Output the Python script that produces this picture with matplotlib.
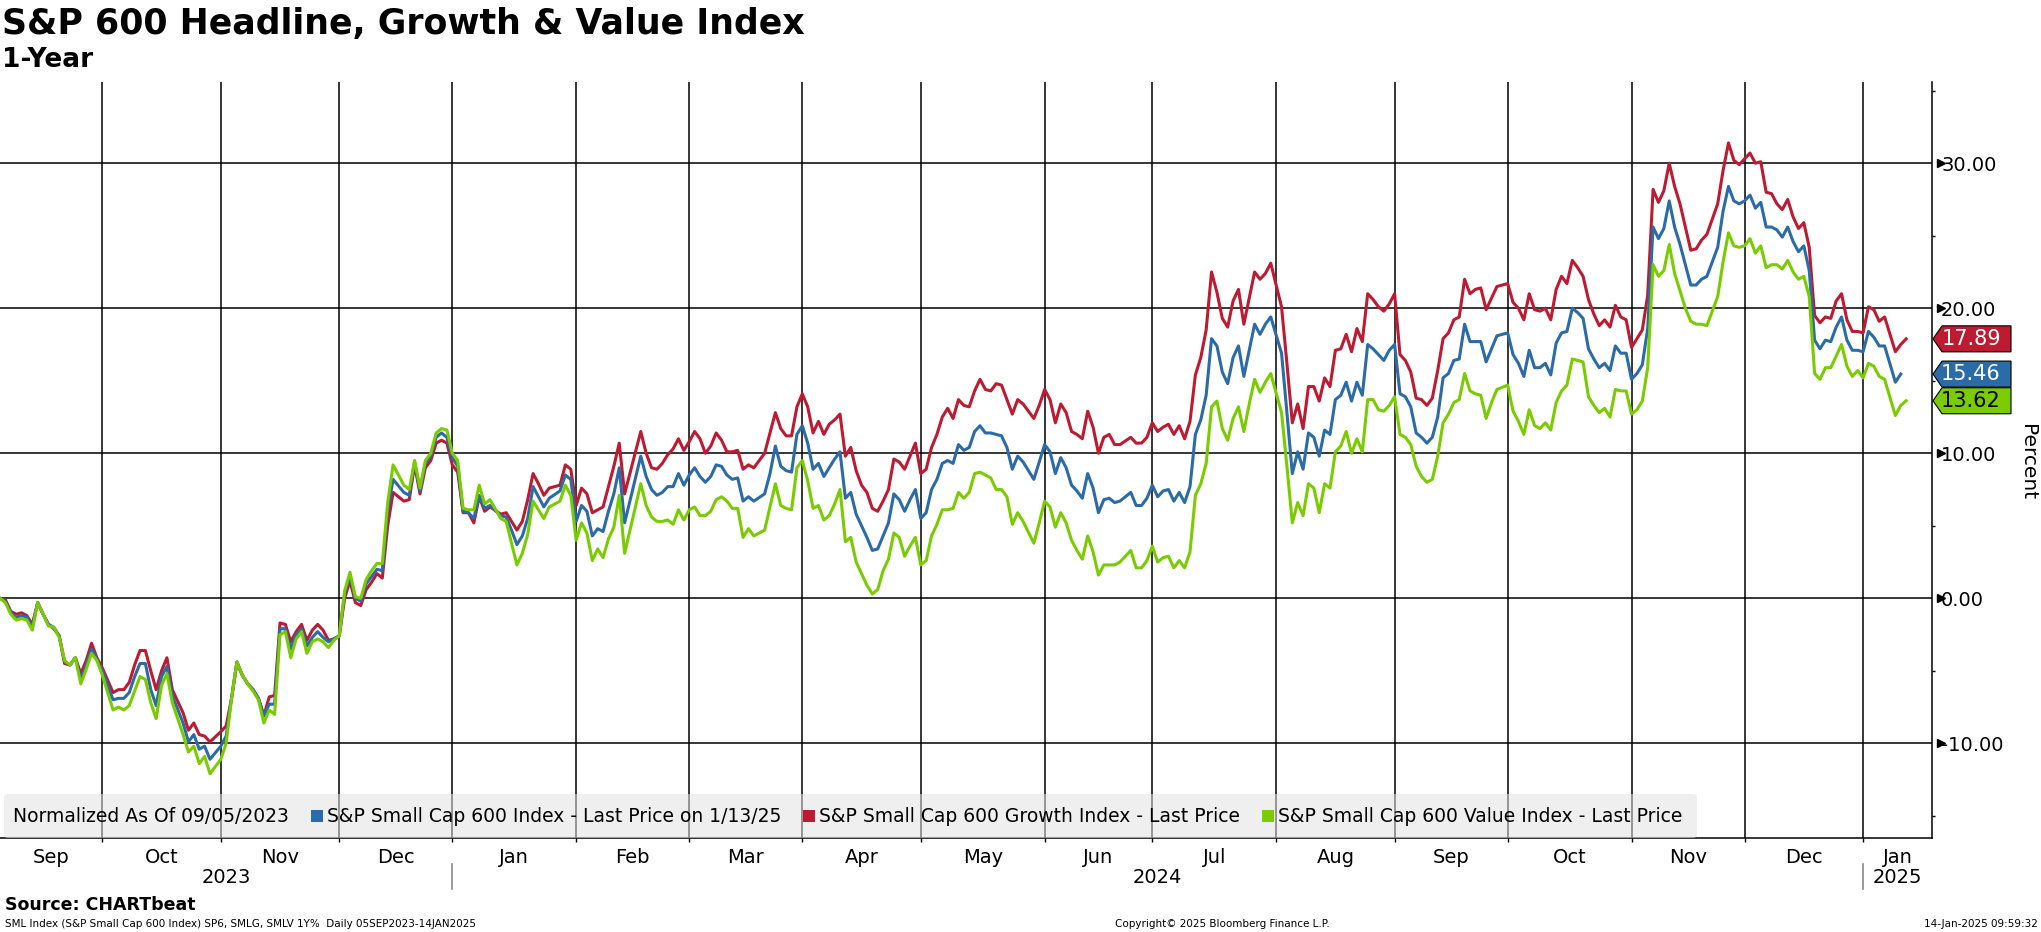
import numpy as np
import pandas as pd
import matplotlib
matplotlib.use("Agg")
import matplotlib.pyplot as plt
from matplotlib.patches import Polygon, FancyBboxPatch, Rectangle

# trading day number, counted in weekdays from 05 Sep 2023
day = [0, 1, 2, 3, 4, 5, 6, 7, 8, 9, 10, 11, 12, 13, 14, 15, 16, 17, 18, 19,
       21, 22, 23, 24, 25, 26, 27, 28, 29, 30, 31, 32, 34, 35, 36, 37, 38, 39, 41, 42,
       43, 44, 45, 46, 47, 48, 49, 50, 51, 52, 53, 54, 55, 56, 57, 58, 59, 60, 61, 62,
       63, 64, 65, 66, 67, 68, 69, 70, 71, 72, 73, 75, 76, 77, 78, 79, 80, 81, 82, 83,
       84, 85, 86, 87, 88, 89, 90, 91, 93, 94, 95, 96, 97, 98, 99, 100, 101, 102, 104, 105,
       106, 107, 108, 109, 110, 111, 112, 113, 114, 115, 116, 119, 120, 121, 122, 123, 124, 125, 126, 127,
       128, 129, 130, 131, 132, 133, 134, 135, 136, 137, 138, 139, 140, 142, 143, 144, 145, 146, 147, 148,
       149, 150, 151, 152, 153, 154, 155, 156, 157, 158, 159, 160, 161, 162, 163, 164, 165, 166, 167, 168,
       169, 170, 171, 172, 173, 174, 175, 176, 177, 178, 179, 180, 181, 182, 183, 184, 185, 186, 187, 188,
       189, 190, 192, 193, 194, 195, 196, 197, 198, 199, 200, 201, 202, 203, 204, 205, 206, 207, 208, 210,
       211, 212, 213, 214, 215, 216, 217, 218, 219, 220, 221, 222, 223, 224, 225, 226, 227, 228, 229, 230,
       231, 232, 233, 234, 235, 236, 238, 239, 240, 241, 242, 243, 244, 245, 246, 247, 248, 249, 250, 251,
       252, 253, 254, 255, 256, 257, 258, 259, 260, 261, 262, 263, 264, 265, 266, 267, 268, 269, 270, 271,
       272, 273, 274, 275, 276, 277, 278, 280, 281, 282, 283, 284, 285, 286, 287, 288, 289, 290, 291, 292,
       293, 294, 295, 296, 297, 298, 299, 300, 301, 302, 303, 304, 305, 306, 307, 308, 309, 310, 311, 312,
       313, 314, 315, 316, 317, 319, 320, 321, 322, 323, 324, 325, 326, 327, 328, 329, 330, 331, 332, 333,
       334, 335, 336, 337, 338, 339, 340, 341, 342, 343, 344, 345, 346, 347, 348, 349, 350, 352, 353, 354]

growth = [0.0, -0.1, -0.9, -1.1, -1.0, -1.2, -1.8, -0.3, -1.1, -1.8, -2.1, -2.6, -4.5, -4.6, -4.1, -5.2, -4.3, -3.1, -4.1, -4.8,
          -6.5, -6.3, -6.3, -5.8, -4.6, -3.6, -3.6, -5.0, -6.3, -5.0, -4.1, -6.3, -7.9, -9.1, -8.6, -9.4, -9.5, -9.9, -9.2, -8.8,
          -6.9, -4.4, -5.3, -5.9, -6.3, -6.9, -8.1, -6.8, -6.7, -1.7, -1.8, -3.0, -2.3, -1.8, -2.9, -2.2, -1.8, -2.2, -2.9, -2.8,
          -2.6, 0.0, 1.2, -0.3, -0.5, 0.6, 1.1, 1.7, 1.4, 5.0, 7.3, 6.7, 6.8, 9.2, 7.2, 9.0, 9.5, 10.7, 10.9, 10.7,
          9.2, 8.7, 5.9, 5.9, 5.2, 7.0, 6.0, 6.3, 5.8, 5.9, 5.3, 4.7, 5.3, 6.8, 8.6, 7.9, 7.1, 7.6, 7.8, 9.2,
          8.9, 6.4, 7.6, 7.2, 5.9, 6.1, 6.3, 7.7, 9.1, 10.7, 7.2, 11.5, 10.0, 9.0, 8.9, 9.3, 9.9, 10.3, 11.0, 10.2,
          10.8, 11.5, 11.0, 10.0, 10.5, 11.4, 10.9, 10.1, 10.1, 10.2, 8.9, 9.2, 9.0, 10.0, 11.4, 12.8, 11.7, 11.2, 11.2, 13.2,
          14.1, 13.2, 11.4, 12.2, 11.3, 12.0, 12.3, 12.7, 9.8, 10.4, 8.8, 7.8, 7.3, 6.2, 6.0, 6.7, 7.5, 9.6, 9.4, 8.9,
          9.8, 10.7, 8.6, 8.9, 10.4, 11.3, 12.5, 13.1, 12.4, 13.7, 13.3, 13.2, 14.3, 15.1, 14.4, 14.3, 14.8, 14.7, 13.7, 12.7,
          13.7, 13.4, 12.4, 13.3, 14.4, 13.7, 12.1, 13.4, 12.8, 11.5, 11.3, 11.0, 12.9, 11.8, 10.0, 11.1, 11.3, 10.6, 10.6, 11.1,
          10.7, 10.7, 11.1, 12.1, 11.5, 11.8, 12.0, 11.3, 11.9, 11.0, 12.2, 15.4, 16.6, 18.5, 22.5, 21.1, 19.3, 18.7, 20.5, 21.3,
          18.9, 20.7, 22.5, 22.0, 22.4, 23.1, 20.1, 16.2, 12.1, 13.4, 11.7, 14.6, 14.6, 13.6, 15.2, 14.6, 17.1, 17.2, 18.2, 17.0,
          18.6, 17.7, 21.0, 20.6, 20.1, 19.8, 20.3, 21.0, 16.8, 16.4, 15.6, 13.8, 13.7, 13.3, 13.8, 15.7, 17.9, 18.3, 19.2, 19.4,
          22.0, 21.0, 21.3, 21.4, 19.9, 20.7, 21.5, 21.7, 20.4, 20.0, 19.2, 21.0, 19.9, 19.8, 20.0, 19.2, 21.3, 22.2, 21.7, 23.3,
          22.8, 22.2, 20.6, 19.6, 18.8, 19.2, 18.7, 20.2, 19.4, 19.2, 17.3, 17.9, 18.5, 20.9, 28.2, 27.3, 28.1, 30.0, 28.4, 27.2,
          25.6, 24.0, 24.1, 24.7, 25.1, 27.2, 29.5, 31.4, 30.2, 29.9, 30.3, 30.7, 30.0, 30.1, 28.0, 27.9, 27.2, 26.8, 27.5, 26.3,
          25.5, 25.9, 24.2, 19.5, 19.0, 19.4, 19.3, 20.5, 21.0, 19.2, 18.4, 18.4, 18.3, 20.1, 19.9, 19.1, 19.4, 17.0, 17.5, 17.89]

sp600 = [0.0, -0.2, -1.0, -1.3, -1.2, -1.3, -2.0, -0.3, -1.1, -1.8, -2.0, -2.6, -4.4, -4.6, -4.1, -5.6, -4.6, -3.5, -4.2, -5.0,
         -7.0, -6.9, -6.9, -6.5, -5.4, -4.5, -4.5, -6.3, -7.4, -5.4, -4.7, -6.7, -8.6, -9.9, -9.4, -10.4, -10.2, -11.1, -10.2, -9.5,
         -6.9, -4.4, -5.3, -5.9, -6.3, -6.9, -8.1, -7.3, -7.3, -2.1, -2.1, -3.5, -2.5, -2.1, -3.3, -2.7, -2.3, -2.7, -3.0, -2.8,
         -2.6, 0.3, 1.5, 0.0, -0.2, 1.0, 1.5, 2.0, 1.9, 6.0, 8.2, 7.3, 7.1, 9.4, 7.4, 9.3, 9.8, 11.1, 11.4, 11.1,
         9.7, 9.1, 6.0, 5.9, 5.5, 7.1, 6.2, 6.4, 5.7, 5.6, 4.7, 3.7, 4.3, 5.5, 7.7, 7.0, 6.3, 6.9, 7.4, 8.5,
         8.2, 5.3, 6.4, 6.0, 4.3, 4.8, 4.6, 6.0, 7.2, 9.0, 5.2, 9.8, 8.4, 7.5, 7.1, 7.3, 7.7, 7.7, 8.6, 7.8,
         8.5, 9.0, 8.4, 8.0, 8.4, 9.2, 9.1, 8.5, 8.2, 8.3, 6.7, 7.0, 6.7, 7.2, 8.6, 10.5, 9.1, 8.8, 8.7, 11.3,
         11.9, 10.7, 8.9, 9.3, 8.4, 9.0, 9.6, 10.1, 6.9, 7.3, 5.8, 5.0, 4.2, 3.3, 3.4, 4.3, 5.2, 7.2, 6.8, 6.0,
         6.8, 7.5, 5.5, 5.9, 7.5, 8.2, 9.3, 9.5, 9.3, 10.6, 10.2, 10.4, 11.5, 11.9, 11.4, 11.4, 11.3, 11.2, 10.4, 8.9,
         9.8, 9.4, 8.2, 9.4, 10.6, 10.1, 8.6, 9.7, 9.0, 7.8, 7.4, 6.9, 8.6, 7.6, 5.9, 6.8, 6.9, 6.6, 6.7, 7.3,
         6.4, 6.4, 6.9, 7.8, 7.0, 7.4, 7.5, 6.7, 7.3, 6.6, 7.7, 11.3, 12.3, 14.0, 17.9, 17.4, 15.6, 14.8, 16.6, 17.4,
         15.3, 17.1, 18.9, 18.2, 18.9, 19.4, 16.9, 12.8, 8.6, 10.1, 8.9, 11.4, 11.1, 9.8, 11.6, 11.3, 13.7, 14.0, 14.9, 13.6,
         14.9, 14.0, 17.5, 17.2, 16.8, 16.4, 17.1, 17.5, 14.1, 13.9, 13.2, 11.4, 11.1, 10.7, 11.1, 12.5, 15.2, 15.5, 16.4, 16.5,
         18.9, 17.7, 17.7, 17.7, 16.3, 17.2, 18.1, 18.3, 16.8, 16.2, 15.3, 17.1, 15.9, 15.9, 16.2, 15.4, 17.6, 18.3, 18.4, 20.0,
         19.7, 19.3, 17.2, 16.5, 15.9, 16.2, 15.7, 17.4, 16.9, 16.9, 15.1, 15.5, 16.1, 18.6, 25.6, 24.8, 25.5, 27.4, 25.6, 24.4,
         23.0, 21.6, 21.6, 22.0, 22.2, 24.2, 26.7, 28.4, 27.4, 27.2, 27.4, 27.8, 26.9, 27.3, 25.6, 25.6, 25.4, 24.9, 25.6, 24.6,
         23.9, 24.3, 22.6, 17.8, 17.2, 17.8, 17.7, 18.7, 19.4, 17.8, 17.1, 17.1, 17.0, 18.4, 18.0, 17.4, 17.4, 14.9, 15.46, np.nan]

value = [0.0, -0.3, -1.1, -1.5, -1.4, -1.5, -2.2, -0.3, -1.1, -1.9, -2.0, -2.7, -4.3, -4.6, -4.1, -5.9, -4.9, -3.8, -4.3, -5.3,
         -7.7, -7.5, -7.7, -7.4, -6.4, -5.4, -5.6, -7.2, -8.3, -6.0, -5.2, -7.2, -9.4, -10.6, -10.2, -11.4, -10.9, -12.1, -11.1, -10.0,
         -6.9, -4.4, -5.3, -5.9, -6.4, -7.0, -8.6, -7.7, -8.0, -2.5, -2.3, -4.1, -2.8, -2.3, -3.8, -3.0, -2.8, -3.0, -3.4, -2.9,
         -2.6, 0.5, 1.8, 0.1, 0.0, 1.3, 1.9, 2.4, 2.4, 6.6, 9.2, 7.8, 7.5, 9.5, 7.6, 9.5, 10.0, 11.4, 11.7, 11.6,
         10.0, 9.5, 6.2, 6.1, 6.1, 7.8, 6.5, 6.8, 5.5, 5.3, 3.8, 2.3, 3.1, 4.4, 6.7, 6.1, 5.5, 6.3, 6.7, 7.8,
         7.1, 4.0, 5.2, 4.5, 2.6, 3.4, 2.8, 4.1, 4.9, 7.1, 3.1, 7.9, 6.4, 5.6, 5.3, 5.3, 5.4, 5.1, 6.1, 5.4,
         6.1, 6.3, 5.7, 5.7, 6.0, 6.8, 7.0, 6.7, 6.2, 6.2, 4.2, 4.8, 4.3, 4.7, 6.3, 7.9, 6.4, 6.2, 6.1, 9.0,
         9.5, 8.1, 6.2, 6.4, 5.4, 5.7, 6.5, 7.5, 3.9, 4.2, 2.5, 1.7, 0.9, 0.3, 0.6, 1.9, 2.7, 4.5, 4.2, 2.9,
         3.6, 4.2, 2.3, 2.6, 4.3, 5.1, 6.1, 6.1, 6.2, 7.3, 6.9, 7.3, 8.6, 8.7, 8.5, 8.3, 7.5, 7.5, 7.0, 5.1,
         5.9, 5.3, 3.8, 5.2, 6.7, 6.3, 4.9, 5.9, 5.2, 4.0, 3.3, 2.7, 4.3, 3.2, 1.6, 2.3, 2.3, 2.3, 2.5, 3.3,
         2.1, 2.1, 2.6, 3.6, 2.5, 2.8, 2.9, 2.1, 2.6, 2.1, 3.2, 7.1, 7.9, 9.3, 13.2, 13.6, 11.7, 10.9, 12.4, 13.2,
         11.5, 13.4, 15.1, 14.2, 14.9, 15.5, 12.8, 9.1, 5.2, 6.6, 5.7, 7.9, 7.6, 5.9, 7.9, 7.6, 10.1, 10.5, 11.5, 10.0,
         11.0, 10.1, 13.7, 13.7, 13.0, 12.9, 13.3, 13.9, 11.3, 11.1, 10.6, 9.1, 8.4, 8.0, 8.2, 9.8, 12.1, 12.7, 13.5, 13.7,
         15.5, 14.3, 14.1, 14.0, 12.4, 13.5, 14.4, 14.7, 12.9, 12.2, 11.3, 13.0, 11.9, 11.7, 12.1, 11.6, 13.5, 14.3, 14.7, 16.5,
         16.4, 16.3, 13.9, 13.3, 12.8, 13.1, 12.5, 14.4, 14.3, 14.3, 12.7, 13.0, 13.6, 15.9, 23.0, 22.2, 22.6, 24.4, 22.4, 21.2,
         20.0, 19.1, 18.9, 18.9, 18.8, 20.8, 23.2, 25.2, 24.3, 24.2, 24.3, 24.8, 23.8, 24.3, 22.8, 23.0, 23.0, 22.7, 23.3, 22.5,
         22.0, 22.2, 20.8, 15.5, 15.1, 15.9, 15.9, 16.7, 17.5, 16.0, 15.3, 15.7, 15.2, 16.2, 16.0, 15.3, 15.1, 12.6, 13.3, 13.62]

last_labels = ["17.89", "15.46", "13.62"]
last_values = [17.89, 15.46, 13.62]
series_names = ["S&P Small Cap 600 Index - Last Price on 1/13/25",
                "S&P Small Cap 600 Growth Index - Last Price",
                "S&P Small Cap 600 Value Index - Last Price"]

RED = "#BE1A32"
BLUE = "#2B6BA7"
GREEN = "#7ACC00"

W, H = 2041, 932
fig = plt.figure(figsize=(W / 100, H / 100), dpi=100)
plt.rcParams["font.family"] = ["DejaVu Sans"]

ax_l, ax_r, ax_t, ax_b = 0, 1932, 82, 838.3
ax = fig.add_axes([ax_l / W, 1 - ax_b / H, (ax_r - ax_l) / W, (ax_b - ax_t) / H])

ymin, ymax = -16.55, 35.6
xmax = 358.8
ax.set_xlim(0, xmax)
ax.set_ylim(ymin, ymax)

# calendar: first weekday of every month
wd = pd.bdate_range("2023-09-05", "2025-01-14")
starts = [0] + [i for i in range(1, len(wd)) if wd[i].month != wd[i - 1].month]
bounds = starts + [xmax]

for s in starts[1:]:
    ax.axvline(s, color="black", lw=1.1, zorder=1)
for v in [-10, 0, 10, 20, 30]:
    ax.axhline(v, color="black", lw=1.1, zorder=1)

ax.plot(day, growth, color=RED, lw=2.2, zorder=3)
ax.plot(day, sp600, color=BLUE, lw=2.2, zorder=3)
ax.plot(day, value, color=GREEN, lw=2.2, zorder=4)

for sp in ["left", "top"]:
    ax.spines[sp].set_visible(False)
ax.spines["right"].set_linewidth(1.1)
ax.spines["bottom"].set_linewidth(1.1)

# right y axis
ax.yaxis.tick_right()
ax.set_yticks([-10, 0, 10, 20, 30])
ax.set_yticklabels(["%.2f" % v for v in [-10, 0, 10, 20, 30]], fontsize=14)
ax.set_yticks([-15, -5, 5, 15, 25, 35], minor=True)
ax.tick_params(axis="y", which="major", length=0, pad=6.5)
ax.tick_params(axis="y", which="minor", length=2.5, width=1, direction="out")
ax.plot([1.0045] * 5, [-10, 0, 10, 20, 30], ls="", marker=">", ms=6, color="black",
        transform=ax.get_yaxis_transform(), clip_on=False)

# x axis: month ticks, month and year labels
ax.set_xticks(starts[1:])
ax.set_xticklabels([])
ax.tick_params(axis="x", which="major", length=3, width=1, direction="out")
for i in range(len(starts)):
    mid = (bounds[i] + bounds[i + 1]) / 2
    ax.annotate(wd[starts[i]].strftime("%b"), xy=(mid, 0), xycoords=("data", "axes fraction"),
                xytext=(0, -13.5), textcoords="offset points", ha="center", va="center", fontsize=14)
yr_bounds = [0] + [s for s in starts if wd[s].month == 1] + [xmax]
for i in range(len(yr_bounds) - 1):
    mid = (yr_bounds[i] + yr_bounds[i + 1]) / 2
    yr = wd[int(yr_bounds[i])].year
    ax.annotate(str(yr), xy=(mid, 0), xycoords=("data", "axes fraction"),
                xytext=(0, -28.5), textcoords="offset points", ha="center", va="center", fontsize=14)
ah = ax_b - ax_t
for s in yr_bounds[1:-1]:
    ax.plot([s, s], [-(864 - ax_b) / ah, -(889 - ax_b) / ah], color="#8a8a8a", lw=1.2,
            transform=ax.get_xaxis_transform(), clip_on=False)

# last value boxes
colors = [RED, BLUE, GREEN]
txt_colors = ["white", "white", "black"]
for lab, v, c, tc in zip(last_labels, last_values, colors, txt_colors):
    yc = ax.transData.transform((0, v))[1]
    x0, x1, hh = 1933, 2011, 13
    pts = [(x0, yc), (x0 + 9, yc + hh), (x1, yc + hh), (x1, yc - hh), (x0 + 9, yc - hh)]
    fig.patches.append(Polygon(pts, closed=True, facecolor=c, edgecolor="black", lw=0.8,
                               transform=None, figure=fig))
    fig.text(1971 / W, yc / H, lab, color=tc, fontsize=15, ha="center", va="center")

fig.text(2027 / W, 1 - 462 / H, "Percent", rotation=270, fontsize=14.5, ha="center", va="center")

# legend strip
fig.patches.append(FancyBboxPatch((4, H - 838), 1693, 44, boxstyle="round,pad=0,rounding_size=4",
                                  facecolor="#e2e2e2", edgecolor="none", alpha=0.55,
                                  transform=None, figure=fig, zorder=5))
r = fig.canvas.get_renderer()
ly = H - 816
x = 13
t = fig.text(x / W, ly / H, "Normalized As Of 09/05/2023", fontsize=13.5, va="center", zorder=6)
x += t.get_window_extent(r).width + 22
for name, c in zip(series_names, [BLUE, RED, GREEN]):
    fig.patches.append(Rectangle((x, ly - 6), 12, 12, facecolor=c, edgecolor="none",
                                 transform=None, figure=fig, zorder=6))
    t = fig.text((x + 16) / W, ly / H, name, fontsize=13.5, va="center", zorder=6)
    x += 16 + t.get_window_extent(r).width + 22

# titles and footer
fig.text(2 / W, 1 - 24 / H, "S&P 600 Headline, Growth & Value Index", fontsize=25,
         fontweight="bold", va="center")
fig.text(2 / W, 1 - 60 / H, "1-Year", fontsize=19, fontweight="bold", va="center")
fig.text(5 / W, 1 - 905 / H, "Source: CHARTbeat", fontsize=12.5, fontweight="bold", va="center")
fig.text(5 / W, 1 - 924 / H, "SML Index (S&P Small Cap 600 Index) SP6, SMLG, SMLV 1Y%  Daily 05SEP2023-14JAN2025",
         fontsize=7.5, va="center")
fig.text(1222 / W, 1 - 924 / H, "Copyright\u00a9 2025 Bloomberg Finance L.P.", fontsize=7.5,
         ha="center", va="center")
fig.text(2038 / W, 1 - 924 / H, "14-Jan-2025 09:59:32", fontsize=7.5, ha="right", va="center")

fig.savefig("out.png", dpi=100)
